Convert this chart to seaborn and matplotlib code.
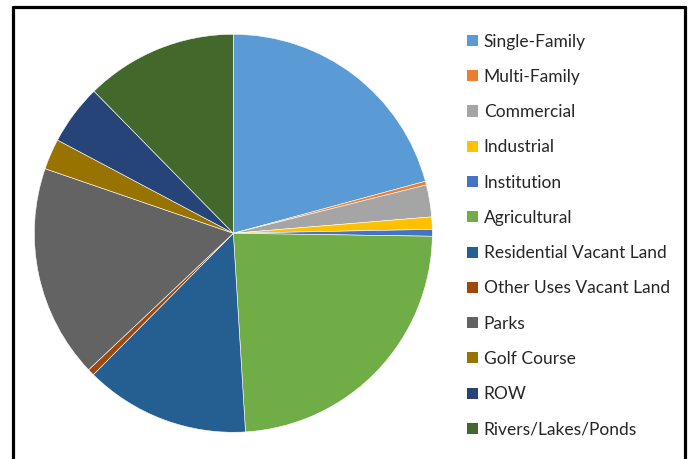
import matplotlib
matplotlib.use("Agg")
import matplotlib.pyplot as plt
import seaborn as sns
from matplotlib.lines import Line2D
from matplotlib.patches import Patch

# Land use categories and share of area (%)
categories = ['Single-Family', 'Multi-Family', 'Commercial', 'Industrial',
              'Institution', 'Agricultural', 'Residential Vacant Land',
              'Other Uses Vacant Land', 'Parks', 'Golf Course', 'ROW',
              'Rivers/Lakes/Ponds']
shares = [20.8, 0.3, 2.6, 1.0, 0.55, 23.8, 13.4, 0.55, 17.3, 2.5, 4.9, 12.35]
colors = ['#5B9BD5', '#ED7D31', '#A5A5A5', '#FFC000', '#4472C4', '#70AD47',
          '#255E91', '#9E480E', '#636363', '#997300', '#264478', '#43682B']

sns.set_theme(style="white")
plt.rcParams['font.family'] = ['Lato', 'DejaVu Sans']

fig = plt.figure(figsize=(6.89, 4.59), dpi=100)
ax = fig.add_axes([0.0498, 0.0582, 0.5777, 0.8671])

palette = sns.color_palette(colors)
ax.pie(shares, colors=palette, startangle=90, counterclock=False,
       radius=1, wedgeprops=dict(edgecolor='white', linewidth=0.4))
ax.set_xlim(-1, 1)
ax.set_ylim(-1, 1)
ax.set_aspect('equal')
ax.axis('off')

handles = [Patch(facecolor=c, edgecolor='none') for c in palette]
fig.legend(handles, categories, loc='upper left',
           bbox_to_anchor=(0.668, 0.942), frameon=False,
           fontsize=12.5, labelspacing=1.11, handlelength=0.6,
           handleheight=0.6, handletextpad=0.35, borderaxespad=0)

# chart frame (bottom edge falls outside the image)
lw = 2.3
fig.add_artist(Line2D([12.5 / 689, 12.5 / 689], [1 - 6.5 / 459, -0.1],
                      transform=fig.transFigure, color='black', lw=lw))
fig.add_artist(Line2D([12.5 / 689, 685 / 689], [1 - 6.5 / 459, 1 - 6.5 / 459],
                      transform=fig.transFigure, color='black', lw=lw))
fig.add_artist(Line2D([685 / 689, 685 / 689], [1 - 6.5 / 459, -0.1],
                      transform=fig.transFigure, color='black', lw=lw))

fig.savefig("out.png", dpi=100)
